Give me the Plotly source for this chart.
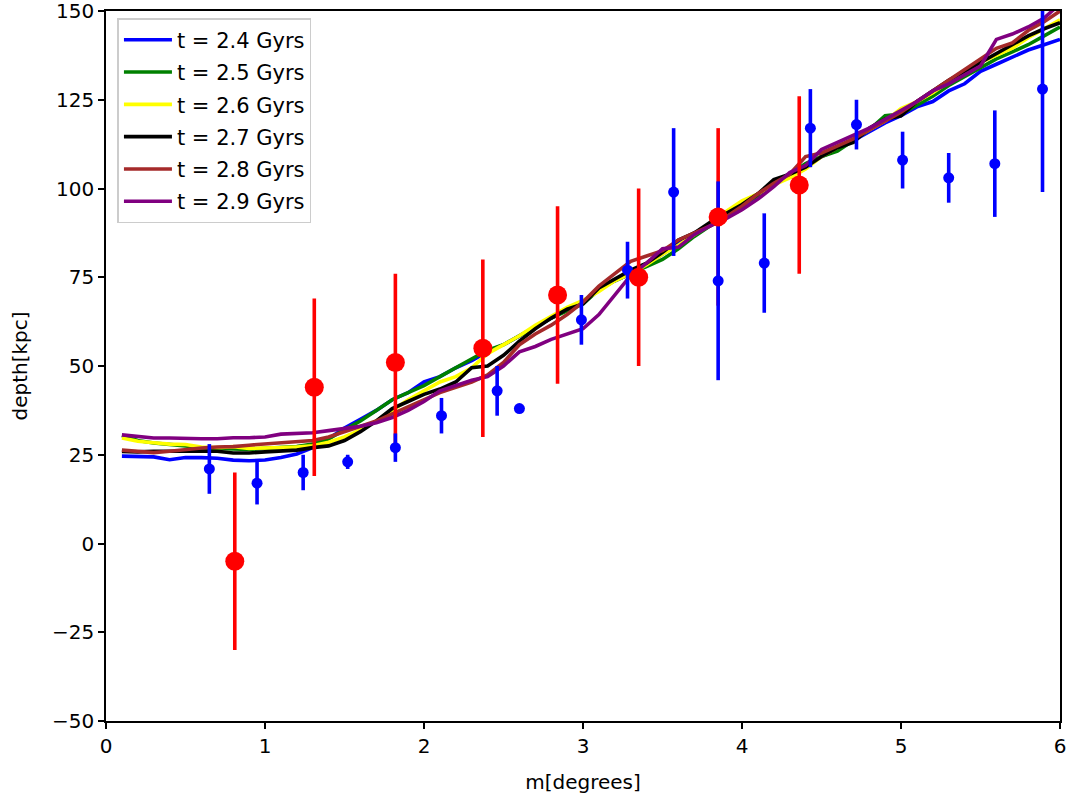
import plotly.graph_objects as go

# ---- model curves ----
m_model = [round(0.1 * i, 1) for i in range(1, 61)]

depth_24 = [24.6, 24.6, 24.4, 23.6, 24.2, 24.2, 24.0, 23.5, 23.3, 23.5, 24.2, 25.2,
            27.0, 29.5, 32.5, 35.0, 37.5, 40.5, 42.5, 45.5, 47.0, 49.5, 51.5, 54.0,
            56.0, 58.5, 61.0, 63.5, 66.0, 68.0, 71.5, 74.0, 76.0, 78.5, 81.5, 84.5,
            87.5, 89.5, 92.0, 95.0, 98.0, 101.5, 103.5, 106.0, 109.0, 111.0, 113.5, 116.0,
            118.5, 120.5, 123.0, 124.5, 127.5, 129.5, 133.0, 135.0, 137.0, 139.0, 140.5, 142.0]
depth_25 = [30.4, 29.0, 28.3, 28.0, 27.5, 26.9, 26.7, 26.5, 26.5, 26.8, 27.0, 27.3,
            28.0, 29.5, 32.0, 34.5, 37.5, 40.5, 42.5, 44.5, 47.0, 49.5, 52.0, 54.5,
            56.0, 58.5, 61.0, 63.5, 65.5, 67.5, 71.5, 74.0, 76.0, 78.0, 80.0, 83.0,
            86.5, 89.5, 92.5, 95.5, 98.0, 101.5, 104.0, 107.0, 109.0, 110.5, 113.5, 116.5,
            120.5, 121.0, 123.5, 126.0, 129.0, 131.5, 134.0, 136.5, 138.5, 140.5, 143.0, 145.5]
depth_26 = [29.7, 28.8, 28.4, 28.0, 27.9, 27.2, 27.0, 27.3, 26.8, 26.8, 27.0, 27.2,
            27.5, 28.5, 30.0, 32.0, 34.5, 37.5, 40.5, 43.0, 45.5, 47.0, 49.5, 53.5,
            56.0, 58.5, 61.5, 64.0, 66.5, 68.5, 71.0, 74.0, 76.0, 78.5, 81.5, 84.0,
            87.0, 90.0, 93.5, 96.5, 98.5, 101.0, 103.0, 105.5, 109.0, 111.5, 114.0, 116.5,
            119.0, 122.5, 124.5, 127.0, 130.0, 133.0, 135.5, 137.5, 139.5, 142.5, 145.0, 147.5]
depth_27 = [25.9, 25.8, 26.0, 26.0, 26.0, 26.0, 26.0, 25.5, 25.5, 25.8, 26.0, 26.3,
            27.0, 27.5, 29.0, 31.5, 34.5, 38.0, 40.0, 42.0, 43.5, 45.5, 49.5, 50.0,
            53.0, 57.0, 60.5, 63.5, 66.0, 67.5, 72.0, 74.5, 77.0, 79.0, 82.0, 85.5,
            87.5, 90.5, 93.0, 95.5, 98.5, 102.5, 104.0, 106.0, 109.0, 111.5, 113.0, 117.0,
            119.5, 120.5, 124.5, 127.5, 130.5, 133.0, 135.5, 138.0, 140.5, 143.0, 145.0, 146.7]
depth_28 = [26.3, 26.0, 25.6, 26.0, 26.5, 26.9, 27.2, 27.3, 27.7, 28.0, 28.5, 28.7,
            29.0, 30.0, 31.5, 33.0, 34.5, 36.5, 38.5, 40.5, 42.5, 44.0, 45.5, 47.5,
            51.0, 56.0, 59.0, 61.5, 64.5, 68.0, 72.5, 76.0, 79.5, 81.0, 82.5, 85.5,
            87.5, 89.5, 92.0, 95.0, 98.5, 101.5, 104.0, 109.0, 110.0, 112.0, 114.0, 116.5,
            119.0, 121.5, 124.5, 127.5, 130.5, 133.5, 136.5, 139.5, 141.0, 144.5, 147.0, 150.0]
depth_29 = [30.6, 30.2, 29.7, 29.7, 29.5, 29.5, 29.5, 29.8, 29.8, 30.0, 30.8, 31.0,
            31.2, 31.8, 32.5, 33.0, 34.0, 35.5, 37.5, 40.0, 43.0, 44.5, 46.0, 47.0,
            50.0, 54.0, 55.5, 57.5, 59.0, 60.5, 64.5, 70.0, 75.5, 79.0, 83.0, 83.5,
            87.0, 89.5, 91.5, 94.0, 97.0, 100.5, 104.5, 106.5, 111.0, 113.0, 115.0, 117.0,
            119.5, 122.0, 124.5, 127.5, 129.5, 132.0, 134.5, 142.0, 143.5, 145.5, 148.0, 152.0]

series_names = ["t = 2.4 Gyrs", "t = 2.5 Gyrs", "t = 2.6 Gyrs",
                "t = 2.7 Gyrs", "t = 2.8 Gyrs", "t = 2.9 Gyrs"]
series_colors = ["blue", "green", "yellow", "black", "brown", "purple"]
series_values = [depth_24, depth_25, depth_26, depth_27, depth_28, depth_29]

# ---- observations (blue) ----
blue_m = [0.65, 0.95, 1.24, 1.52, 1.82, 2.11, 2.46, 2.60, 2.99, 3.28,
          3.57, 3.85, 4.14, 4.43, 4.72, 5.01, 5.30, 5.59, 5.89]
blue_depth = [21, 17, 20, 23, 27, 36, 43, 38, 63, 77,
              99, 74, 79, 117, 118, 108, 103, 107, 128]
blue_err = [7, 6, 5, 2, 4, 5, 7, 0, 7, 8,
            18, 28, 14, 11, 7, 8, 7, 15, 29]

# ---- observations (red) ----
red_m = [0.81, 1.31, 1.82, 2.37, 2.84, 3.35, 3.85, 4.36]
red_depth = [-5, 44, 51, 55, 70, 75, 92, 101]
red_err = [25, 25, 25, 25, 25, 25, 25, 25]

font_family = "DejaVu Sans"

fig = go.Figure()

for i, (name, col, vals) in enumerate(zip(series_names, series_colors, series_values)):
    fig.add_trace(go.Scatter(
        x=m_model, y=vals, mode="lines", name=name,
        line=dict(color=col, width=3.6), legendgroup=f"g{i}",
    ))

# red error bars (beneath blue)
fig.add_trace(go.Scatter(
    x=red_m, y=red_depth, mode="markers", showlegend=False,
    marker=dict(size=1, color="rgba(0,0,0,0)"),
    error_y=dict(type="data", array=red_err, color="red", thickness=3.6, width=0),
))
# blue points
fig.add_trace(go.Scatter(
    x=blue_m, y=blue_depth, mode="markers", showlegend=False,
    marker=dict(size=11, color="blue"),
    error_y=dict(type="data", array=blue_err, color="blue", thickness=3.6, width=0),
))
# red markers
fig.add_trace(go.Scatter(
    x=red_m, y=red_depth, mode="markers", showlegend=False,
    marker=dict(size=19, color="red"),
))

axis_common = dict(
    showline=True, linecolor="black", linewidth=1.5, mirror=True,
    ticks="outside", ticklen=6, tickwidth=1.5, tickcolor="black",
    showgrid=False, zeroline=False, automargin=False,
    ticklabeloverflow="allow",
    tickfont=dict(family=font_family, size=20, color="black"),
)

fig.update_layout(
    width=1067, height=798,
    margin=dict(l=106, r=7, t=11, b=77, autoexpand=False),
    plot_bgcolor="white", paper_bgcolor="white",
    font=dict(family=font_family, size=20, color="black"),
    xaxis=dict(range=[0, 6], tickvals=[0, 1, 2, 3, 4, 5, 6],
               title=dict(text="m[degrees]", font=dict(size=20), standoff=18),
               **axis_common),
    yaxis=dict(range=[-50, 150], tickvals=[-50, -25, 0, 25, 50, 75, 100, 125, 150],
               title=dict(text="depth[kpc]", font=dict(size=20), standoff=19),
               **axis_common),
    legend=dict(x=0.012, y=0.99, xanchor="left", yanchor="top",
                bgcolor="white", bordercolor="#cccccc", borderwidth=1.5,
                font=dict(family=font_family, size=21),
                tracegroupgap=2, traceorder="grouped", itemwidth=48),
    showlegend=True,
)

fig.write_html("out.html", config={"displayModeBar": False},
               post_script="document.body.style.margin='0';document.body.style.padding='0';")
